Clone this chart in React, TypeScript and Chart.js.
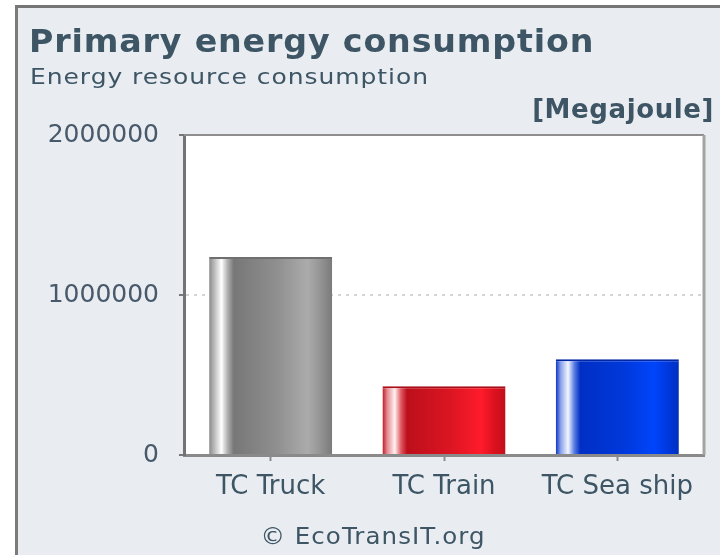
import React, { useEffect, useRef } from "react";
import { Chart, registerables } from "chart.js";

Chart.register(...registerables);

// ---- data ----
const categories: string[] = ["TC Truck", "TC Train", "TC Sea ship"];
const energyMJ: number[] = [1237000, 430000, 598000];
const yTickValues: number[] = [0, 1000000, 2000000];
const gridValues: number[] = [1000000];

const titleText = "Primary energy consumption";
const subtitleText = "Energy resource consumption";
const unitText = "[Megajoule]";
const creditText = "© EcoTransIT.org";

// ---- styles ----
const FONT = "'DejaVu Sans', Verdana, sans-serif";
const TEXT = "#3d5564";
const BAR_PCT = 0.71;

const barGradients: [number, string][][] = [
  [
    [0, "#8a8a8a"], [0.04, "#b8b8b8"], [0.1, "#ffffff"], [0.15, "#b0b0b0"], [0.2, "#777777"],
    [0.55, "#8f8f8f"], [0.8, "#ababab"], [0.9, "#959595"], [1, "#7a7a7a"],
  ],
  [
    [0, "#c21825"], [0.04, "#e58c93"], [0.1, "#fff2f2"], [0.15, "#e05a64"], [0.2, "#bc0f1b"],
    [0.55, "#db1522"], [0.8, "#ff1b2b"], [0.9, "#df121f"], [1, "#c10f1b"],
  ],
  [
    [0, "#0933c2"], [0.04, "#8aa2ea"], [0.1, "#f3f6ff"], [0.15, "#5a7de2"], [0.2, "#002fc4"],
    [0.55, "#0038da"], [0.8, "#0045fb"], [0.9, "#0039e0"], [1, "#002fbf"],
  ],
];
const barFallback = ["#8f8f8f", "#d8141f", "#0039d8"];
const barTopColor = ["#6f6f6f", "#a80d18", "#0026a8"];

const plotFrame = {
  id: "plotFrame",
  beforeDraw(chart: any) {
    const { ctx, chartArea: a } = chart;
    ctx.save();
    ctx.fillStyle = "#ffffff";
    ctx.fillRect(a.left, a.top, a.right - a.left, a.bottom - a.top);
    ctx.restore();
  },
  afterDraw(chart: any) {
    const { ctx, chartArea: a } = chart;
    ctx.save();
    ctx.strokeStyle = "#8e8e8e";
    ctx.lineWidth = 2;
    ctx.beginPath();
    ctx.moveTo(a.left, a.top);
    ctx.lineTo(a.right, a.top);
    ctx.stroke();
    ctx.strokeStyle = "#a3a3a3";
    ctx.lineWidth = 3;
    ctx.beginPath();
    ctx.moveTo(a.right, a.top);
    ctx.lineTo(a.right, a.bottom);
    ctx.stroke();
    ctx.restore();
  },
};

export default function App() {
  const canvasRef = useRef<HTMLCanvasElement | null>(null);

  useEffect(() => {
    const canvas = canvasRef.current;
    if (!canvas) return;
    const chart = new Chart(canvas, {
      type: "bar",
      data: {
        labels: categories,
        datasets: [
          {
            data: energyMJ,
            barPercentage: BAR_PCT,
            categoryPercentage: 1,
            borderWidth: { top: 2, left: 0, right: 0, bottom: 0 },
            borderColor: barTopColor,
            backgroundColor: (c: any) => {
              const i = c.dataIndex;
              const chartRef = c.chart;
              const xs = chartRef.scales && chartRef.scales.x;
              if (i === undefined || !xs || !chartRef.chartArea) return barFallback[i ?? 0];
              const cx = xs.getPixelForValue(i);
              const w = (xs.width / categories.length) * BAR_PCT;
              const g = chartRef.ctx.createLinearGradient(cx - w / 2, 0, cx + w / 2, 0);
              barGradients[i].forEach(([p, col]) => g.addColorStop(p, col));
              return g;
            },
          },
        ],
      },
      options: {
        animation: false,
        responsive: false,
        devicePixelRatio: 1,
        layout: { padding: { left: 0, top: 135, right: 16, bottom: 0 } },
        plugins: {
          legend: { display: false },
          tooltip: { enabled: false },
          title: { display: false },
        },
        scales: {
          x: {
            offset: true,
            grid: {
              display: true,
              drawOnChartArea: false,
              offset: false,
              tickLength: 6,
              tickWidth: 2,
              tickColor: "#8a8a8a",
            },
            border: { display: true, color: "#8a8a8a", width: 3 },
            ticks: {
              color: TEXT,
              font: { family: FONT, size: 26 },
              padding: 11,
              maxRotation: 0,
              autoSkip: false,
            },
            afterFit: (s: any) => {
              s.height = 100;
            },
          },
          y: {
            min: 0,
            max: 2000000,
            afterBuildTicks: (s: any) => {
              s.ticks = yTickValues.map((v) => ({ value: v }));
            },
            grid: {
              color: (c: any) =>
                c.tick && gridValues.includes(c.tick.value) ? "#d4d4d4" : "rgba(0,0,0,0)",
              lineWidth: 2,
              tickLength: 5,
              tickWidth: 2,
              tickColor: "#777777",
            },
            border: { display: true, color: "#737373", width: 3, dash: [3, 5] },
            ticks: {
              color: "#47596a",
              font: { family: FONT, size: 25 },
              padding: 20,
              callback: (v: any) => String(v),
            },
            afterFit: (s: any) => {
              s.width = 184;
            },
          },
        },
      },
      plugins: [plotFrame],
    });
    return () => chart.destroy();
  }, []);

  const text = (extra: React.CSSProperties): React.CSSProperties => ({
    position: "absolute",
    fontFamily: FONT,
    color: TEXT,
    whiteSpace: "nowrap",
    ...extra,
  });

  return (
    <div
      style={{
        position: "fixed",
        left: 0,
        top: 0,
        width: 720,
        height: 555,
        background: "#ffffff",
        overflow: "hidden",
      }}
    >
      <div
        style={{
          position: "absolute",
          left: 15,
          top: 5,
          width: 720,
          height: 560,
          background: "#e9edf1",
          borderLeft: "3px solid #7b7b7b",
          borderTop: "3px solid #767676",
        }}
      />
      <canvas
        ref={canvasRef}
        width={720}
        height={555}
        style={{ position: "absolute", left: 0, top: 0, width: 720, height: 555 }}
      />
      <div
        style={text({
          left: 29,
          top: 24.6,
          fontSize: 32,
          lineHeight: "32px",
          fontWeight: "bold",
          letterSpacing: "0.8px",
          transform: "scaleX(1.04)",
          transformOrigin: "0 0",
        })}
      >
        {titleText}
      </div>
      <div
        style={text({
          left: 30,
          top: 67.2,
          fontSize: 21,
          lineHeight: "21px",
          letterSpacing: "0.8px",
          transform: "scaleX(1.19)",
          transformOrigin: "0 0",
        })}
      >
        {subtitleText}
      </div>
      <div
        style={text({
          left: 0,
          width: 714,
          top: 96.3,
          fontSize: 26,
          lineHeight: "26px",
          fontWeight: "bold",
          letterSpacing: "0.6px",
          textAlign: "right",
        })}
      >
        {unitText}
      </div>
      <div
        style={text({
          left: 0,
          width: 746,
          top: 524.5,
          fontSize: 23,
          lineHeight: "23px",
          letterSpacing: "1px",
          textAlign: "center",
          transform: "scaleX(1.065)",
          transformOrigin: "373px 0",
        })}
      >
        {creditText}
      </div>
    </div>
  );
}
